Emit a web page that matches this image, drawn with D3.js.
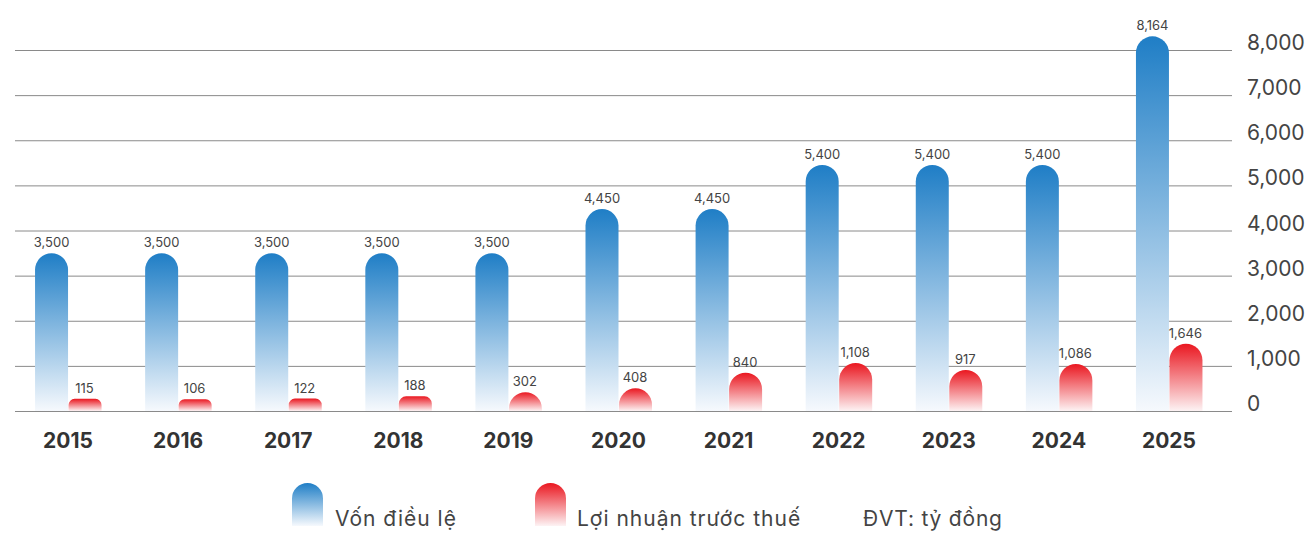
<!DOCTYPE html>
<html>
<head>
<meta charset="utf-8">
<script src="https://cdn.jsdelivr.net/npm/d3@7"></script>
<style>
  html, body { margin: 0; padding: 0; background: #fff; }
  svg text { font-family: Inter, "Noto Sans", sans-serif; }
</style>
</head>
<body>
<div id="chart"></div>
<script>
var years = ["2015", "2016", "2017", "2018", "2019", "2020", "2021", "2022", "2023", "2024", "2025"];
var capital = [3500, 3500, 3500, 3500, 3500, 4450, 4450, 5400, 5400, 5400, 8164];
var profit = [115, 106, 122, 188, 302, 408, 840, 1108, 917, 1086, 1646];
var yTicks = [0, 1000, 2000, 3000, 4000, 5000, 6000, 7000, 8000];
var seriesNames = ["Vốn điều lệ", "Lợi nhuận trước thuế"];
var unitLabel = "ĐVT: tỷ đồng";

var width = 1310, height = 536;
var fmt = d3.format(",");

var svg = d3.select("#chart").append("svg")
	.attr("width", width)
	.attr("height", height);

var defs = svg.append("defs");
function grad(id, top, bottom) {
	var g = defs.append("linearGradient").attr("id", id)
		.attr("x1", 0).attr("y1", 0).attr("x2", 0).attr("y2", 1);
	g.append("stop").attr("offset", "0%").attr("stop-color", top);
	g.append("stop").attr("offset", "100%").attr("stop-color", bottom);
}
grad("gBlue", "#1f7ec6", "#f6f9fd");
grad("gRed", "#ea1720", "#fdf3f4");

var x = d3.scaleBand().domain(years).range([13, 1224]);
// axis scale (gridlines + labels)
var y = d3.scaleLinear().domain([0, 8000]).range([411, 50]);
// the bars in the original are not quite on the axis scale
var yCap = d3.scaleLinear().domain([0, 8000]).range([416, 44]);
var yProf = d3.scaleLinear().domain([0, 2000]).range([403, 331]);
var barW = 33;
var base = y(0);

// gridlines
svg.append("g").selectAll("line")
	.data(yTicks).enter().append("line")
	.attr("x1", 15).attr("x2", 1232)
	.attr("y1", function(d) { return y(d) + 0.5; })
	.attr("y2", function(d) { return y(d) + 0.5; })
	.attr("stroke", "#8a8a8a").attr("stroke-width", 1);

// y labels on the right
svg.append("g").selectAll("text")
	.data(yTicks).enter().append("text")
	.attr("x", 1247)
	.attr("y", function(d) { return y(d); })
	.attr("font-size", 21)
	.attr("fill", "#444")
	.text(function(d) { return fmt(d); });

/*
bar rounded on top only; short bars get smaller corners
*/
function pill(x0, w, top, bottom) {
	var h = bottom - top;
	var r = Math.min(w / 2, h < 17 ? h / 2 : h);
	return "M" + x0 + "," + bottom +
		"V" + (top + r) +
		"A" + r + "," + r + " 0 0 1 " + (x0 + r) + "," + top +
		"H" + (x0 + w - r) +
		"A" + r + "," + r + " 0 0 1 " + (x0 + w) + "," + (top + r) +
		"V" + bottom + "Z";
}

var groups = svg.append("g").selectAll("g")
	.data(years).enter().append("g");

groups.append("path")
	.attr("fill", "url(#gBlue)")
	.attr("d", function(d, i) {
		var c = x(d) + x.bandwidth() / 2;
		return pill(c - barW, barW, yCap(capital[i]), base);
	});
groups.append("path")
	.attr("fill", "url(#gRed)")
	.attr("d", function(d, i) {
		var c = x(d) + x.bandwidth() / 2;
		return pill(c + 0.5, barW, yProf(profit[i]), base);
	});

groups.append("text")
	.attr("text-anchor", "middle")
	.attr("font-size", 13)
	.attr("fill", "#444")
	.attr("x", function(d) { return x(d) + x.bandwidth() / 2 - barW / 2; })
	.attr("y", function(d, i) { return yCap(capital[i]) - 6; })
	.text(function(d, i) { return fmt(capital[i]); });
groups.append("text")
	.attr("text-anchor", "middle")
	.attr("font-size", 13)
	.attr("fill", "#444")
	.attr("x", function(d) { return x(d) + x.bandwidth() / 2 + barW / 2; })
	.attr("y", function(d, i) { return yProf(profit[i]) - 6; })
	.text(function(d, i) { return fmt(profit[i]); });

// category labels
groups.append("text")
	.attr("text-anchor", "middle")
	.attr("font-size", 21)
	.attr("font-weight", "bold")
	.attr("fill", "#333")
	.attr("x", function(d) { return x(d) + x.bandwidth() / 2; })
	.attr("y", 448)
	.text(function(d) { return d; });

// legend
var legend = svg.append("g");
var legendItems = [
	{ name: seriesNames[0], fill: "url(#gBlue)", x: 292, tx: 335 },
	{ name: seriesNames[1], fill: "url(#gRed)", x: 535, tx: 577 }
];
legendItems.forEach(function(it) {
	legend.append("path")
		.attr("fill", it.fill)
		.attr("d", pill(it.x, 31, 483, 526));
	legend.append("text")
		.attr("x", it.tx).attr("y", 526)
		.attr("font-size", 21).attr("fill", "#444")
		.attr("letter-spacing", 1)
		.text(it.name);
});
legend.append("text")
	.attr("x", 863).attr("y", 526)
	.attr("font-size", 21).attr("fill", "#444")
	.attr("letter-spacing", 0.8)
	.text(unitLabel);
</script>
</body>
</html>
